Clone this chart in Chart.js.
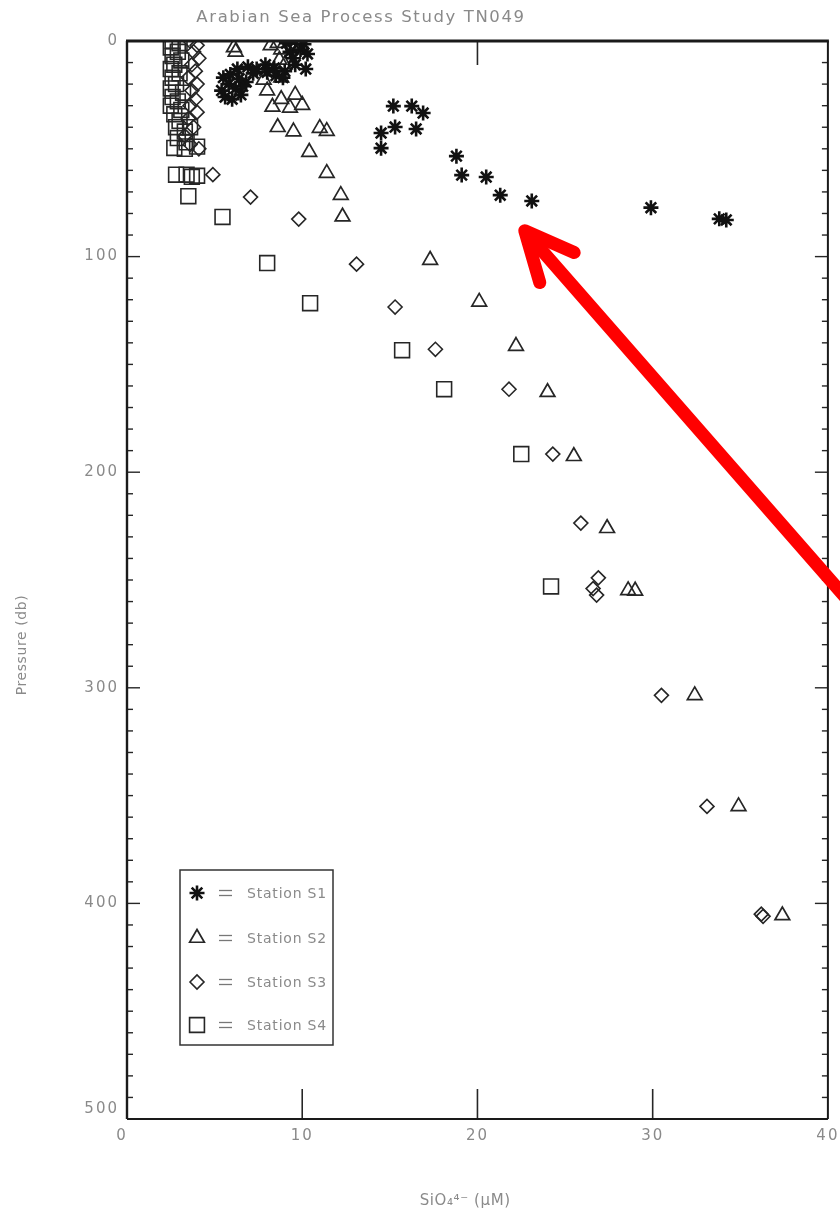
<!DOCTYPE html>
<html>
<head>
<meta charset="utf-8">
<script src="https://cdn.jsdelivr.net/npm/chart.js@4/dist/chart.umd.min.js"></script>
<style>
  html, body { margin: 0; padding: 0; background: #fff; }
  #wrap { width: 840px; height: 1216px; position: relative; }
</style>
</head>
<body>
<div id="wrap"><canvas id="c" width="840" height="1216"></canvas></div>
<script>
// Silicate (µM) vs pressure (db) for the four stations
const S1_SIO4 = [5.5, 5.8, 6.2, 5.6, 6.5, 6.8, 5.4, 6.0, 6.6, 5.9, 6.4, 6.3, 6.9, 7.4, 7.9, 8.4, 9.0, 9.6, 10.2, 9.1, 9.6, 10.1, 9.3, 9.9, 10.3, 9.5, 8.5, 8.9, 7.2, 8.0,
                 15.2, 16.25, 16.9, 14.5, 15.3, 16.5, 14.5, 18.8, 19.1, 20.5, 21.3, 23.1, 29.9, 33.8, 34.2];
const S1_PRES = [17, 20, 22, 26, 25, 19, 23, 27, 21, 15.5, 17.5, 13, 12, 13, 11, 12.5, 14, 11, 13, 1, 0, 1.5, 5, 4, 6, 8, 16, 17, 15, 14.5,
                 30.2, 30.2, 33.4, 42.7, 39.9, 40.8, 49.7, 53.4, 62.2, 63.1, 71.5, 74.2, 77.3, 82.5, 83];

const S2_SIO4 = [6.1, 6.2, 8.2, 8.6, 8.8, 8.7, 9.0, 8.0, 7.8, 8.8, 8.0, 8.8, 8.3, 9.3, 10.0, 9.6, 8.6, 9.5, 11.0, 11.4,
                 10.4, 11.4, 12.2, 12.3, 17.3, 20.1, 22.2, 24.0, 25.5, 27.4, 28.6, 29.0, 32.4, 34.9, 37.4];
const S2_PRES = [3, 5, 2, 1, 4, 8.8, 11, 14, 18, 17, 23, 27, 30.6, 31, 29.7, 25, 40, 42, 40.4, 41.8,
                 51.5, 61.3, 71.5, 81.5, 101.6, 121, 141.5, 162.9, 192.6, 226, 254.8, 255, 303.5, 355, 405.6];

const S3_SIO4 = [3.6, 4.0, 3.8, 4.1, 3.7, 3.9, 3.5, 4.0, 3.7, 3.9, 3.6, 4.0, 3.5, 3.8, 3.3, 3.6, 4.1, 4.9, 7.05, 9.8,
                 13.1, 15.3, 17.6, 21.8, 24.3, 25.9, 26.9, 26.6, 26.8, 30.5, 33.1, 36.2, 36.3];
const S3_PRES = [0, 2, 5, 8, 11, 14, 17, 20, 23, 27, 30, 33, 36, 40, 44, 48, 50, 62, 72.4, 82.6,
                 103.5, 123.4, 143, 161.5, 191.6, 223.6, 249, 254, 257, 303.5, 355, 405, 406];

const S4_SIO4 = [2.6, 3.0, 2.5, 2.9, 2.6, 3.1, 2.7, 2.5, 3.0, 2.6, 2.8, 2.5, 3.2, 2.6, 2.9, 2.5, 3.1, 2.7, 3.0, 2.8,
                 3.3, 3.6, 2.9, 3.4, 4.0, 2.7, 3.3, 2.8, 3.4, 4.0, 3.7, 3.5, 5.45, 8.0, 10.45, 15.7, 18.1, 22.5, 24.2];
const S4_PRES = [0, 1, 3, 5, 7, 9, 11, 13, 15, 17, 20, 22, 24, 26, 28, 30, 32, 34, 37, 40,
                 42, 40, 45, 47, 49, 49.6, 50, 62, 62, 62.5, 63, 72, 81.6, 103, 121.6, 143.4, 161.5, 191.6, 253];

const STATION_LABELS = ['Station S1', 'Station S2', 'Station S3', 'Station S4'];
const X_TICKS = [0, 10, 20, 30, 40];
const Y_TICKS = [0, 100, 200, 300, 400, 500];
const TITLE = 'Arabian Sea Process Study TN049';
const X_TITLE = 'SiO\u2084\u2074\u207B (\u03BCM)';
const Y_TITLE = 'Pressure (db)';
// pointer annotation, in data units (tail lies past the right edge)
const ARROW_TAIL = [41.0, 258];
const ARROW_TIP = [22.7, 88];

const pts = (xs, ys) => xs.map((v, i) => ({ x: v, y: ys[i] }));

const LABEL_COLOR = '#8a8a8a';
const INK = '#262626';

const datasets = [
  { label: STATION_LABELS[0], data: pts(S1_SIO4, S1_PRES), pointStyle: 'star', pointRadius: 7.5,
    borderColor: '#111', backgroundColor: '#111', pointBorderWidth: 2.6 },
  { label: STATION_LABELS[1], data: pts(S2_SIO4, S2_PRES), pointStyle: 'triangle', pointRadius: 8.5,
    borderColor: INK, backgroundColor: 'rgba(0,0,0,0)', pointBorderWidth: 1.7 },
  { label: STATION_LABELS[2], data: pts(S3_SIO4, S3_PRES), pointStyle: 'rectRot', pointRadius: 7,
    borderColor: INK, backgroundColor: 'rgba(0,0,0,0)', pointBorderWidth: 1.6 },
  { label: STATION_LABELS[3], data: pts(S4_SIO4, S4_PRES), pointStyle: 'rect', pointRadius: 10.5,
    borderColor: INK, backgroundColor: 'rgba(0,0,0,0)', pointBorderWidth: 1.6 }
];

function seg(ctx, x1, y1, x2, y2) {
  ctx.beginPath(); ctx.moveTo(x1, y1); ctx.lineTo(x2, y2); ctx.stroke();
}

function marker(ctx, ds, x, y) {
  const opts = { pointStyle: ds.pointStyle, radius: ds.pointRadius, rotation: 0, borderWidth: ds.pointBorderWidth };
  ctx.save();
  ctx.strokeStyle = ds.borderColor;
  ctx.fillStyle = ds.backgroundColor;
  ctx.lineWidth = ds.pointBorderWidth;
  Chart.helpers.drawPoint(ctx, opts, x, y);
  ctx.restore();
}

const frame = {
  id: 'frame',
  afterDraw(chart) {
    const { ctx, chartArea: a, scales: { x, y } } = chart;
    ctx.save();

    // inward ticks on the pressure axes
    ctx.strokeStyle = INK;
    ctx.lineWidth = 1.4;
    for (let p = 0; p <= 500; p += 10) {
      const py = y.getPixelForValue(p);
      const len = p % 100 === 0 ? 13 : 6;
      seg(ctx, a.left, py, a.left + len, py);
      seg(ctx, a.right, py, a.right - len, py);
    }
    // inward ticks on the silicate axis
    ctx.lineWidth = 1.6;
    for (const v of [10, 20, 30]) {
      const px = x.getPixelForValue(v);
      seg(ctx, px, a.bottom, px, a.bottom - 30);
    }
    seg(ctx, x.getPixelForValue(20), a.top, x.getPixelForValue(20), a.top + 24);

    // plot frame
    ctx.strokeStyle = '#1a1a1a';
    ctx.lineWidth = 3; seg(ctx, a.left - 1, a.top, a.right + 1, a.top);
    ctx.lineWidth = 2.4; seg(ctx, a.left, a.top, a.left, a.bottom);
    ctx.lineWidth = 2; seg(ctx, a.right, a.top, a.right, a.bottom);
    ctx.lineWidth = 2.2; seg(ctx, a.left, a.bottom, a.right, a.bottom);

    // tick labels
    ctx.fillStyle = LABEL_COLOR;
    ctx.font = '15px "DejaVu Sans"';
    ctx.letterSpacing = '2px';
    ctx.textAlign = 'right'; ctx.textBaseline = 'middle';
    for (const p of Y_TICKS) ctx.fillText(String(p), a.left - 8, y.getPixelForValue(p) - (p === 500 ? 10 : 0));
    ctx.textAlign = 'center'; ctx.textBaseline = 'middle';
    for (const v of X_TICKS) ctx.fillText(String(v), x.getPixelForValue(v) - (v === 0 ? 5 : 0), a.bottom + 17);

    // titles
    ctx.letterSpacing = '1.6px';
    ctx.font = '16.5px "DejaVu Sans"';
    ctx.fillText(TITLE, 361, 18);
    ctx.letterSpacing = '0.6px';
    ctx.font = '15px "DejaVu Sans"';
    ctx.fillText(X_TITLE, x.getPixelForValue(19.3), a.bottom + 82);
    ctx.font = '14px "DejaVu Sans"';
    ctx.save();
    ctx.translate(22, 645);
    ctx.rotate(-Math.PI / 2);
    ctx.fillText(Y_TITLE, 0, 0);
    ctx.restore();

    // legend box
    const bx = 180, by = 870, bw = 153, bh = 175;
    ctx.strokeStyle = '#333';
    ctx.lineWidth = 1.5;
    ctx.strokeRect(bx, by, bw, bh);
    const rows = [23, 68, 112, 155];
    ctx.font = '14px "DejaVu Sans"';
    ctx.letterSpacing = '0.8px';
    ctx.textAlign = 'left';
    chart.data.datasets.forEach((ds, i) => {
      const ry = by + rows[i];
      marker(ctx, ds, bx + 17, ry);
      ctx.strokeStyle = '#777'; ctx.lineWidth = 1.3;
      seg(ctx, bx + 39, ry - 2.5, bx + 52, ry - 2.5);
      seg(ctx, bx + 39, ry + 2.5, bx + 52, ry + 2.5);
      ctx.fillStyle = LABEL_COLOR;
      ctx.fillText(ds.label, bx + 67, ry + 1);
    });

    // red pointer arrow
    const tx = x.getPixelForValue(ARROW_TIP[0]), ty = y.getPixelForValue(ARROW_TIP[1]);
    const sx = x.getPixelForValue(ARROW_TAIL[0]), sy = y.getPixelForValue(ARROW_TAIL[1]);
    ctx.strokeStyle = '#ff0000';
    ctx.lineWidth = 13;
    ctx.lineCap = 'round';
    ctx.lineJoin = 'round';
    seg(ctx, sx, sy, tx + 6, ty + 7);
    const back = Math.atan2(sy - ty, sx - tx);
    const wing = 54, spread = 25 * Math.PI / 180;
    ctx.beginPath();
    ctx.moveTo(tx + wing * Math.cos(back - spread), ty + wing * Math.sin(back - spread));
    ctx.lineTo(tx, ty);
    ctx.lineTo(tx + wing * Math.cos(back + spread), ty + wing * Math.sin(back + spread));
    ctx.stroke();

    ctx.restore();
  }
};

new Chart(document.getElementById('c'), {
  type: 'scatter',
  data: { datasets },
  options: {
    responsive: false,
    animation: false,
    layout: { padding: { left: 127, right: 10, top: 41, bottom: 97 } },
    scales: {
      x: { type: 'linear', min: 0, max: 40, display: false },
      y: { type: 'linear', min: 0, max: 500, reverse: true, display: false }
    },
    plugins: { legend: { display: false }, tooltip: { enabled: false } }
  },
  plugins: [frame]
});
</script>
</body>
</html>
